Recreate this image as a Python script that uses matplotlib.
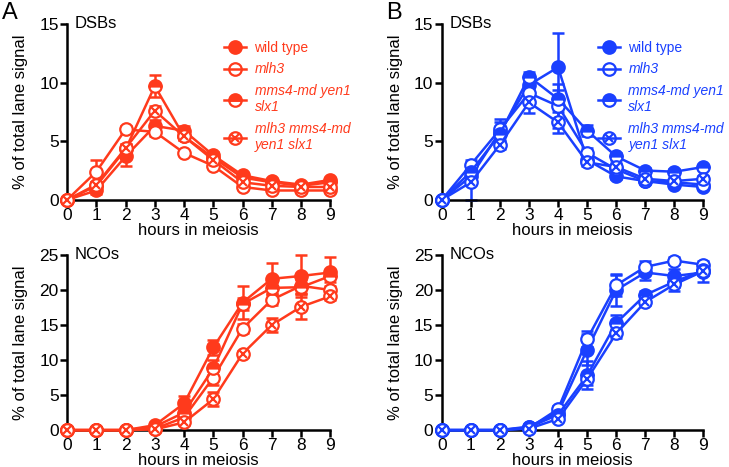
import numpy as np
import matplotlib
matplotlib.use('Agg')
import matplotlib.pyplot as plt
from matplotlib.lines import Line2D
from matplotlib.legend_handler import HandlerTuple

plt.rcParams['font.family'] = ['Liberation Sans', 'DejaVu Sans']

RED = '#ff3a1c'
BLUE = '#1a40ff'

hours = [0, 1, 2, 3, 4, 5, 6, 7, 8, 9]
genotypes = ['wild type', 'mlh3', 'mms4-md yen1\nslx1', 'mlh3 mms4-md\nyen1 slx1']

# panel A, DSBs (wt, mlh3, mms4-md yen1 slx1, mlh3 mms4-md yen1 slx1)
a_dsb_wt = [0, 0.8, 3.7, 6.3, 5.9, 3.8, 2.1, 1.6, 1.3, 1.7]
a_dsb_mlh3 = [0, 2.4, 6.0, 5.8, 4.0, 2.9, 1.1, 0.8, 0.8, 0.8]
a_dsb_mms4 = [0, 1.2, 4.3, 9.7, 5.4, 3.6, 1.9, 1.5, 1.2, 1.5]
a_dsb_trip = [0, 1.3, 4.4, 7.6, 5.4, 3.4, 1.5, 1.2, 1.1, 1.1]
a_dsb_err_wt = [0, 0.3, 0.8, 0.5, 0.4, 0.3, 0.2, 0.2, 0.1, 0.2]
a_dsb_err_mlh3 = [0, 1.0, 0.3, 0.4, 0.2, 0.2, 0.2, 0.1, 0.1, 0.1]
a_dsb_err_mms4 = [0, 0.3, 0.5, 0.9, 0.3, 0.3, 0.2, 0.1, 0.1, 0.2]
a_dsb_err_trip = [0, 0.2, 0.4, 0.4, 0.3, 0.2, 0.2, 0.1, 0.1, 0.1]

# panel A, NCOs
a_nco_wt = [0, 0, 0, 0.7, 3.8, 11.8, 18.2, 21.6, 22.0, 22.5]
a_nco_mlh3 = [0, 0, 0, 0.2, 1.8, 7.5, 14.5, 18.6, 20.6, 20.0]
a_nco_mms4 = [0, 0, 0, 0.5, 2.5, 8.8, 18.0, 20.3, 20.4, 22.0]
a_nco_trip = [0, 0, 0, 0.1, 1.1, 4.4, 10.9, 15.0, 17.6, 19.1]
a_nco_err_wt = [0, 0, 0, 0.2, 1.0, 1.1, 2.4, 2.2, 3.0, 2.2]
a_nco_err_mlh3 = [0, 0, 0, 0.1, 0.5, 1.0, 0.6, 0.8, 1.0, 0.6]
a_nco_err_mms4 = [0, 0, 0, 0.2, 0.6, 1.2, 0.8, 0.9, 1.0, 0.8]
a_nco_err_trip = [0, 0, 0, 0.1, 0.3, 1.0, 0.4, 1.0, 1.8, 0.5]

# panel B, DSBs
b_dsb_wt = [0, 2.0, 5.8, 9.8, 11.3, 3.4, 2.0, 1.6, 1.3, 1.1]
b_dsb_mlh3 = [0, 3.0, 6.0, 9.1, 8.0, 4.0, 2.6, 1.6, 1.5, 1.3]
b_dsb_mms4 = [0, 2.4, 5.6, 10.5, 8.6, 5.9, 3.7, 2.5, 2.4, 2.8]
b_dsb_trip = [0, 1.5, 4.7, 8.3, 6.6, 3.2, 2.8, 1.8, 1.6, 1.8]
b_dsb_err_wt = [0, 0.5, 1.1, 0.8, 2.9, 0.3, 0.2, 0.2, 0.1, 0.1]
b_dsb_err_mlh3 = [0, 0.4, 0.6, 0.8, 1.9, 0.4, 0.3, 0.2, 0.1, 0.1]
b_dsb_err_mms4 = [0, 0.4, 0.6, 0.4, 0.8, 0.5, 0.3, 0.2, 0.2, 0.2]
b_dsb_err_trip = [0, 1.5, 0.4, 0.9, 0.9, 0.3, 0.3, 0.2, 0.1, 0.2]

# panel B, NCOs
b_nco_wt = [0, 0, 0, 0.5, 2.5, 11.5, 20.0, 22.5, 22.0, 22.5]
b_nco_mlh3 = [0, 0, 0, 0.3, 3.0, 13.0, 20.7, 23.3, 24.2, 23.6]
b_nco_mms4 = [0, 0, 0, 0.4, 2.2, 7.8, 15.3, 19.3, 21.2, 22.8]
b_nco_trip = [0, 0, 0, 0.2, 1.6, 7.3, 13.8, 18.3, 20.8, 22.7]
b_nco_err_wt = [0, 0, 0, 0.1, 0.4, 2.2, 2.3, 1.1, 1.0, 1.4]
b_nco_err_mlh3 = [0, 0, 0, 0.1, 0.4, 1.2, 1.5, 0.8, 0.5, 0.6]
b_nco_err_mms4 = [0, 0, 0, 0.1, 0.4, 2.0, 1.1, 0.6, 0.8, 0.7]
b_nco_err_trip = [0, 0, 0, 0.1, 0.3, 0.8, 0.6, 0.5, 1.0, 0.6]

panels = [
    ('DSBs', RED, [a_dsb_wt, a_dsb_mlh3, a_dsb_mms4, a_dsb_trip],
     [a_dsb_err_wt, a_dsb_err_mlh3, a_dsb_err_mms4, a_dsb_err_trip], 15, [0, 5, 10, 15]),
    ('NCOs', RED, [a_nco_wt, a_nco_mlh3, a_nco_mms4, a_nco_trip],
     [a_nco_err_wt, a_nco_err_mlh3, a_nco_err_mms4, a_nco_err_trip], 25, [0, 5, 10, 15, 20, 25]),
    ('DSBs', BLUE, [b_dsb_wt, b_dsb_mlh3, b_dsb_mms4, b_dsb_trip],
     [b_dsb_err_wt, b_dsb_err_mlh3, b_dsb_err_mms4, b_dsb_err_trip], 15, [0, 5, 10, 15]),
    ('NCOs', BLUE, [b_nco_wt, b_nco_mlh3, b_nco_mms4, b_nco_trip],
     [b_nco_err_wt, b_nco_err_mlh3, b_nco_err_mms4, b_nco_err_trip], 25, [0, 5, 10, 15, 20, 25]),
]

# axes rectangles in figure fractions (left, bottom, width, height)
rects = [
    [0.092, 0.572, 0.361, 0.377],
    [0.092, 0.079, 0.361, 0.375],
    [0.606, 0.572, 0.359, 0.377],
    [0.606, 0.079, 0.359, 0.375],
]

fig = plt.figure(figsize=(7.29, 4.67), dpi=100)

LW = 1.8
MS = 9
MEW = 1.6


def marker_kw(i, color):
    if i == 0:
        return dict(marker='o', markerfacecolor=color)
    if i == 2:
        return dict(marker='o', fillstyle='top', markerfacecolor=color,
                    markerfacecoloralt='white')
    return dict(marker='o', markerfacecolor='white')


for (name, color, series, errs, ymax, yticks), rect in zip(panels, rects):
    ax = fig.add_axes(rect)
    x = np.array(hours)
    for i, (y, e) in enumerate(zip(series, errs)):
        y = np.array(y)
        e = np.array(e)
        m = e > 0
        ax.errorbar(x[m], y[m], yerr=e[m], fmt='none', ecolor=color,
                    elinewidth=LW, capsize=4, capthick=LW, clip_on=False, zorder=2)
        ax.plot(x, y, color=color, lw=LW, markersize=MS, markeredgewidth=MEW,
                markeredgecolor=color, clip_on=False, zorder=3 + i * 0.1,
                **marker_kw(i, color))
        if i == 3:
            ax.plot(x, y, linestyle='none', marker='x', markersize=5.5,
                    markeredgewidth=MEW, color=color, clip_on=False, zorder=3.35)

    ax.set_xlim(0, 9)
    ax.set_ylim(0, ymax)
    ax.set_xticks(hours)
    ax.set_yticks(yticks)
    for s in ['top', 'right']:
        ax.spines[s].set_visible(False)
    for s in ['left', 'bottom']:
        ax.spines[s].set_linewidth(LW)
    ax.tick_params(width=LW, length=5, labelsize=12.5, pad=1)
    ax.set_xlabel('hours in meiosis', fontsize=12, labelpad=0)
    ax.set_ylabel('% of total lane signal', fontsize=12)
    ax.yaxis.set_label_coords(-0.148, 0.5)
    ax.text(0.03, 1.0, name, transform=ax.transAxes, fontsize=12,
            ha='left', va='center')

    if name == 'DSBs':
        handles = []
        for i in range(4):
            kw = marker_kw(i, color)
            if kw.get('markerfacecolor') == 'white':
                kw['markerfacecolor'] = 'none'
            if kw.get('markerfacecoloralt') == 'white':
                kw['markerfacecoloralt'] = 'none'
            h = Line2D([], [], color=color, lw=LW, markersize=MS,
                       markeredgewidth=MEW, markeredgecolor=color, **kw)
            if i == 3:
                hx = Line2D([], [], linestyle='none', marker='x', markersize=5.5,
                            markeredgewidth=MEW, color=color)
                h = (h, hx)
            handles.append(h)
        leg = ax.legend(handles, genotypes, loc='upper left',
                        bbox_to_anchor=(0.575, 0.935), frameon=False, fontsize=10,
                        handlelength=1.6, handletextpad=0.6, labelspacing=0.55,
                        borderaxespad=0, handler_map={tuple: HandlerTuple(ndivide=1)})
        for j, t in enumerate(leg.get_texts()):
            t.set_color(color)
            if j > 0:
                t.set_style('italic')

fig.text(0.003, 0.995, 'A', fontsize=17, ha='left', va='top')
fig.text(0.530, 0.995, 'B', fontsize=17, ha='left', va='top')

fig.savefig('out.png', dpi=100)
